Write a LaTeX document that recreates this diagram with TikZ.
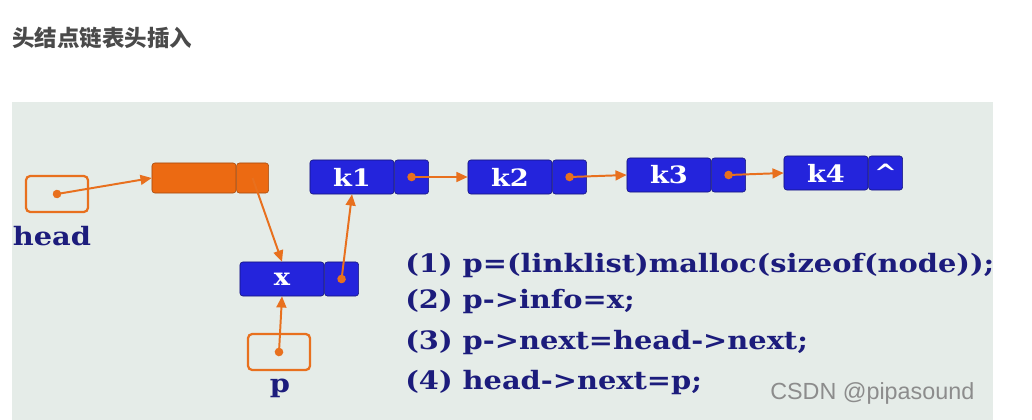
\documentclass[tikz,border=0pt]{standalone}
\usepackage{fontspec}
\setmainfont{DejaVu Serif}
\newfontfamily\codefont[FakeStretch=1.14]{DejaVu Serif}
\newfontfamily\cjkfont{Noto Sans CJK SC}
\newfontfamily\marksans{Liberation Sans}
\usetikzlibrary{arrows.meta, positioning}
\definecolor{panelgray}{HTML}{E5ECE8}
\definecolor{nodeblue}{HTML}{2424DC}
\definecolor{headorange}{HTML}{EC6A12}
\definecolor{linkorange}{HTML}{E8701E}
\definecolor{codeblue}{HTML}{1C1C7C}
\definecolor{titlegray}{HTML}{4A4A4A}

\begin{document}
\begin{tikzpicture}[
  x=0.025cm, y=-0.025cm,
  every node/.style={inner sep=0pt},
  datafield/.style={draw=nodeblue!55!black, fill=nodeblue, rounded corners=2pt,
                    minimum width=2.1cm, minimum height=0.85cm, text=white,
                    font=\codefont\bfseries\fontsize{17}{17}\selectfont},
  ptrfield/.style={datafield, minimum width=0.85cm},
  headfield/.style={datafield, draw=headorange!70!black, fill=headorange,
                    minimum height=0.75cm},
  varbox/.style={draw=linkorange, line width=1.6pt, rounded corners=3pt,
                 minimum width=1.55cm, minimum height=0.9cm},
  varname/.style={text=codeblue, font=\codefont\bfseries\fontsize{18}{18}\selectfont},
  codeline/.style={anchor=west, text=codeblue, font=\codefont\bfseries\fontsize{18}{18}\selectfont},
  link/.style={draw=linkorange, line width=1.4pt, -{Triangle[length=8pt, width=7pt]}},
  dotlink/.style={link, {Circle[length=6pt]}-{Triangle[length=8pt, width=7pt]}, shorten <=-3pt}
]
  \useasboundingbox (0,0) rectangle (1032,420);
  % panel behind the lists
  \fill[panelgray] (12,102) rectangle (993,420);

  \node[anchor=west, text=titlegray, font=\cjkfont\bfseries\fontsize{16}{16}\selectfont]
    (title) at (12,38) {头结点链表头插入};

  % head pointer and head node
  \node[varbox] (headvar) at (57,194) {};
  \node[varname] (headlbl) at (52,236) {head};
  \node[headfield] (hdata) at (194,178) {};
  \node[headfield, minimum width=0.8cm, right=0pt of hdata] (hptr) {};

  % the list k1 .. k4
  \node[datafield] (k1) at (352,177) {k1};
  \node[ptrfield, right=0pt of k1] (k1ptr) {};
  \node[datafield] (k2) at (510,177) {k2};
  \node[ptrfield, right=0pt of k2] (k2ptr) {};
  \node[datafield] (k3) at (669,175) {k3};
  \node[ptrfield, right=0pt of k3] (k3ptr) {};
  \node[datafield] (k4) at (826,173) {k4};
  \node[ptrfield, right=0pt of k4] (k4ptr) {\^{}};

  % new node x and pointer p
  \node[datafield] (xdata) at (282,279) {x};
  \node[ptrfield, right=0pt of xdata] (xptr) {};
  \node[varbox] (pvar) at (279,352) {};
  \node[varname] (plbl) at (280,388) {p};

  % links
  \draw[dotlink] (headvar.center) -- (hdata.west);
  \draw[link] (hptr.center) -- (xdata.north);
  \draw[dotlink] (xptr.center) -- (k1.south);
  \draw[dotlink] (pvar.center) -- (xdata.south);
  \draw[dotlink] (k1ptr.center) -- (k2.west);
  \draw[dotlink] (k2ptr.center) -- (k3.west);
  \draw[dotlink] (k3ptr.center) -- (k4.west);

  % the four steps
  \node[codeline] (step1) at (405,266) {(1) p=(linklist)malloc(sizeof(node));};
  \node[codeline] (step2) at (405,302) {(2) p->info=x;};
  \node[codeline] (step3) at (405,343) {(3) p->next=head->next;};
  \node[codeline] (step4) at (405,383) {(4) head->next=p;};

  \node[anchor=west, text=black!45, font=\marksans\fontsize{16.6}{16.6}\selectfont]
    (mark) at (770,393) {CSDN @pipasound};
\end{tikzpicture}
\end{document}
